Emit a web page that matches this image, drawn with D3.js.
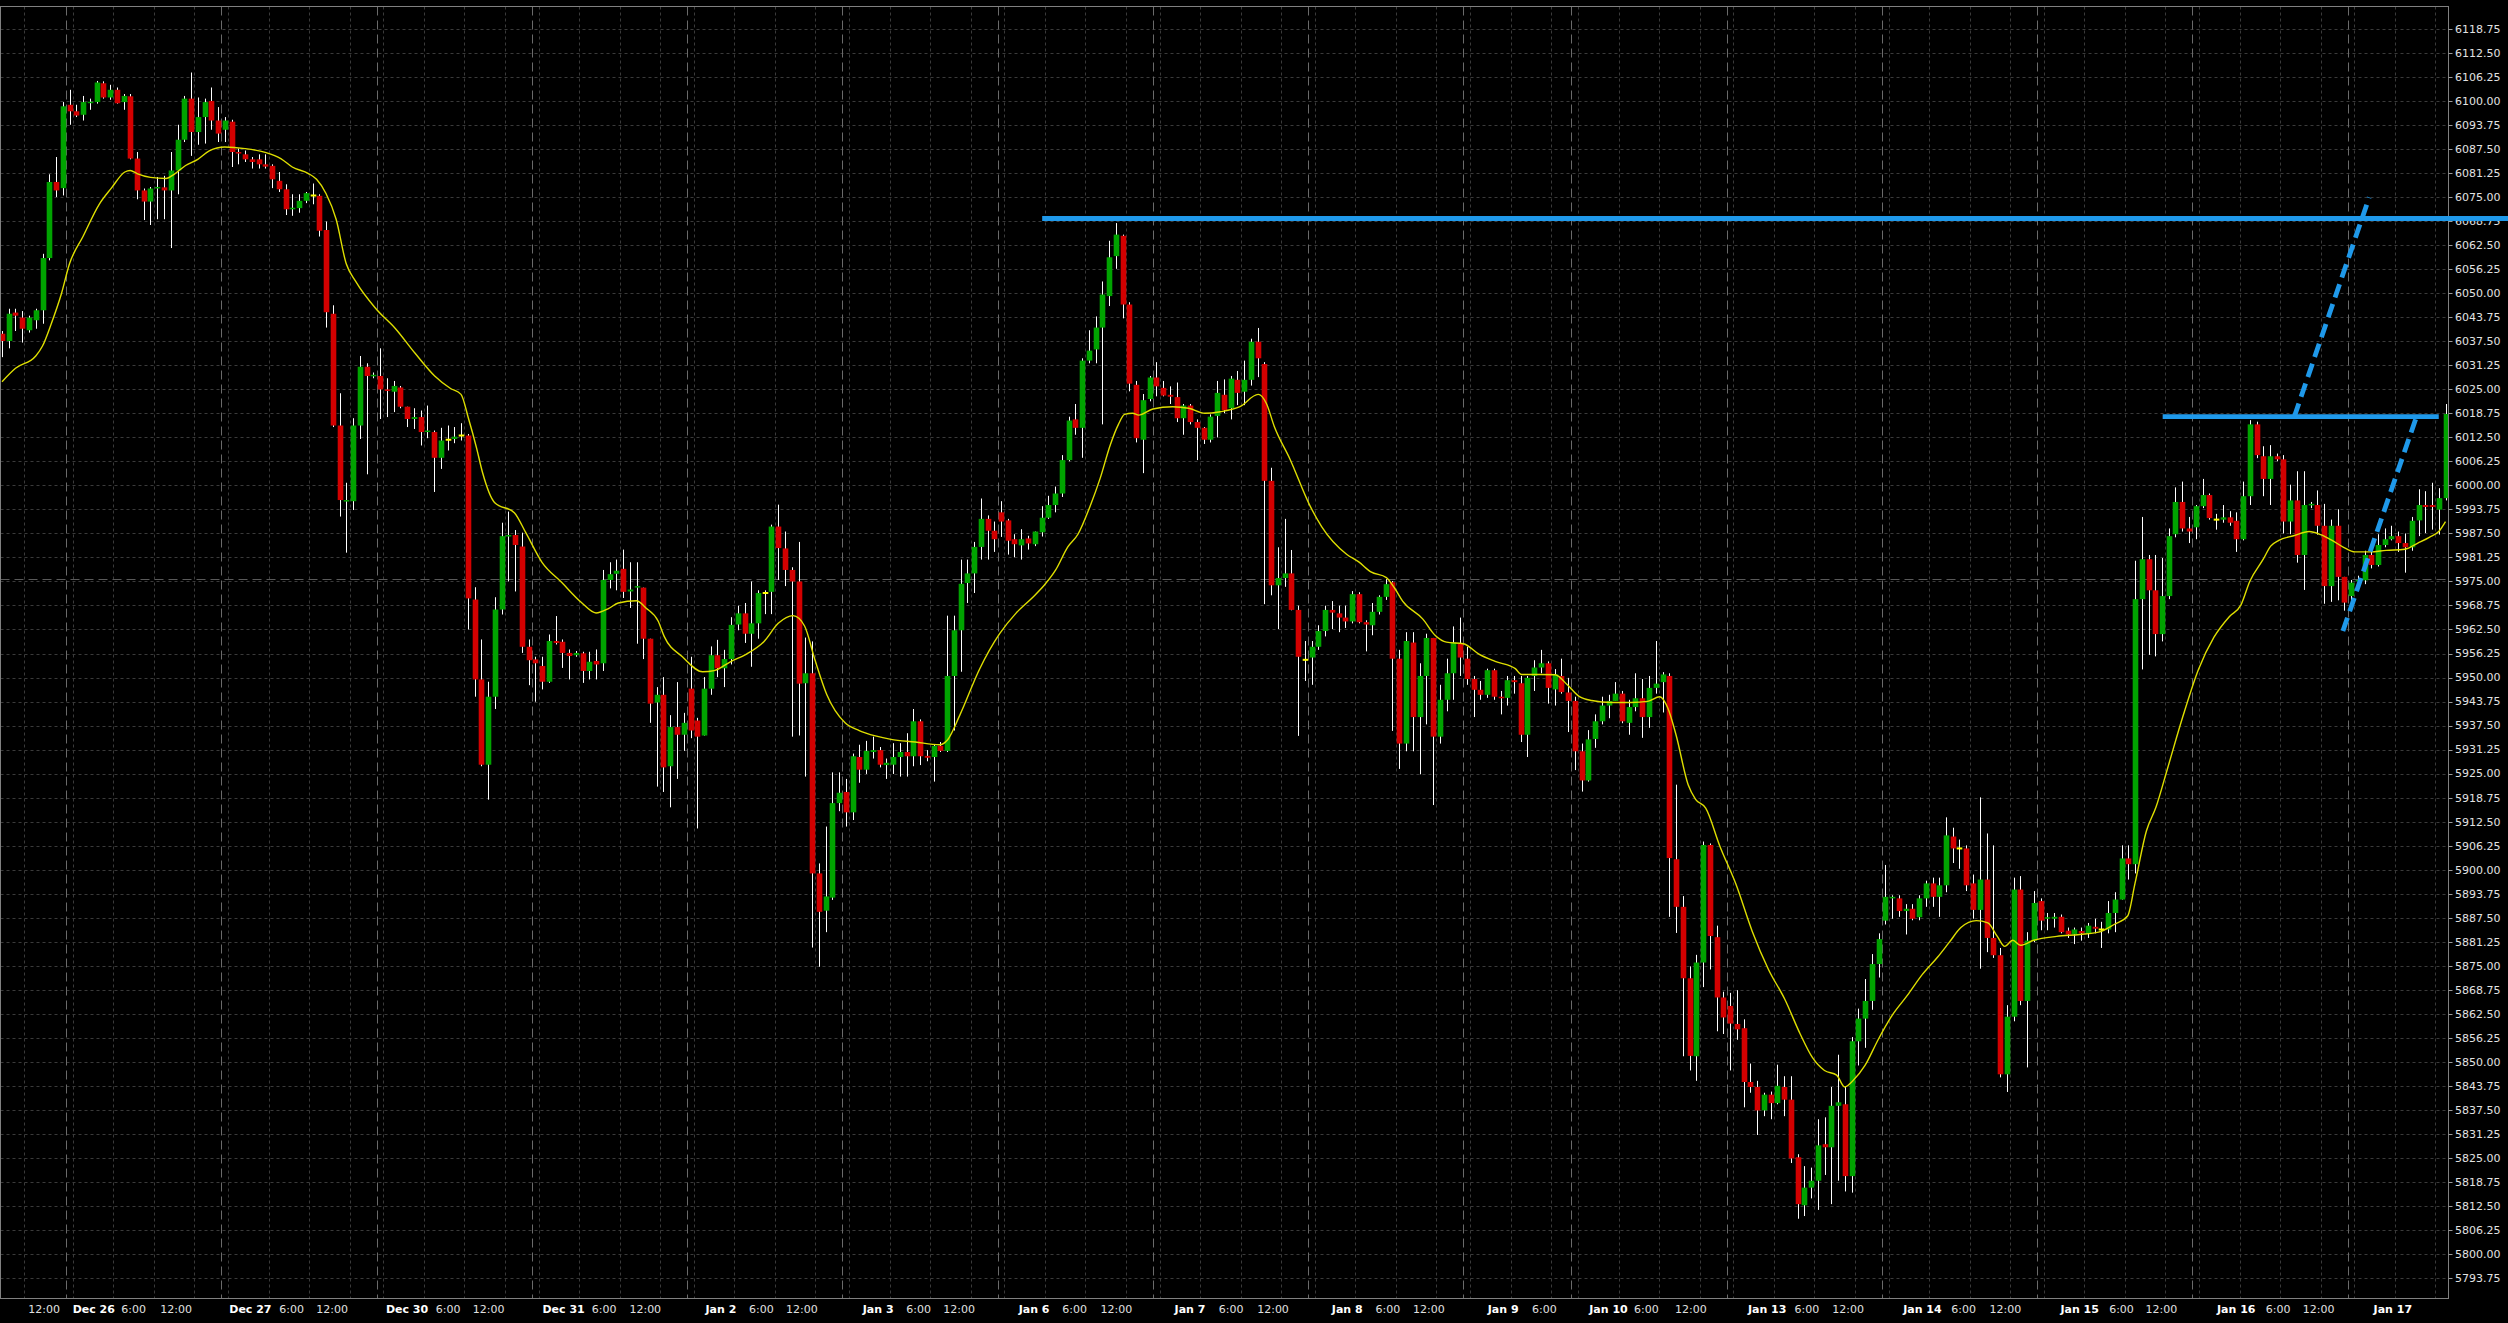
<!DOCTYPE html>
<html><head><meta charset="utf-8">
<script src="https://cdn.jsdelivr.net/npm/d3@7"></script>
<style>html,body{margin:0;padding:0;background:#000;overflow:hidden}svg{display:block}</style>
</head><body><svg id="chart" width="2508" height="1323"></svg>
<script>
// ---- data (hourly bars) ----
const opens = [6039.5,6037.6,6045.0,6043.7,6040.4,6043.0,6045.6,6059.2,6079.0,6077.4,6099.1,6097.4,6096.5,6099.6,6099.8,6104.7,6101.0,6103.0,6099.8,6101.3,6085.1,6076.8,6073.9,6077.4,6077.6,6076.8,6082.0,6090.0,6100.7,6092.0,6095.9,6100.1,6095.0,6092.6,6094.7,6086.8,6086.2,6084.9,6084.9,6083.6,6083.2,6079.3,6077.1,6071.9,6072.2,6074.1,6075.5,6075.4,6066.5,6044.7,6015.6,5995.8,5995.9,6015.6,6030.9,6028.5,6028.5,6025.0,6024.4,6025.5,6020.5,6017.3,6017.8,6013.9,6013.9,6007.2,6011.9,6012.1,6013.0,6013.0,5970.3,5949.5,5927.3,5945.0,5967.7,5986.7,5987.1,5984.1,5958.0,5954.7,5953.0,5948.9,5959.5,5959.3,5956.4,5955.8,5956.3,5951.7,5954.3,5953.7,5975.4,5977.0,5978.3,5972.4,5973.4,5973.4,5960.1,5943.5,5945.5,5926.9,5937.1,5935.1,5947.1,5938.8,5934.9,5947.1,5955.8,5952.4,5954.8,5963.8,5966.7,5961.4,5964.1,5972.0,5972.3,5989.3,5983.6,5978.0,5975.0,5948.5,5951.1,5899.0,5889.3,5892.7,5917.3,5920.2,5914.9,5929.3,5926.0,5930.6,5931.1,5927.2,5927.3,5929.3,5930.6,5929.5,5938.6,5929.6,5929.3,5932.2,5930.9,5950.4,5962.3,5974.6,5977.1,5984.0,5991.3,5988.2,5993.0,5990.9,5986.0,5984.4,5986.2,5984.7,5987.8,5991.6,5994.9,5997.9,6006.6,6017.2,6015.0,6032.5,6035.4,6041.1,6049.3,6059.7,6065.0,6047.1,6026.2,6011.9,6022.5,6028.1,6025.4,6023.6,6023.0,6017.5,6020.8,6016.5,6015.0,6011.9,6018.1,6023.6,6020.1,6027.5,6024.4,6027.5,6037.4,6031.6,6001.2,5974.0,5975.9,5977.1,5967.6,5954.6,5955.2,5958.0,5962.1,5967.6,5966.7,5965.6,5964.6,5971.7,5964.4,5963.6,5967.1,5971.0,5974.8,5954.9,5932.8,5959.1,5939.7,5950.4,5960.3,5934.6,5944.2,5951.1,5958.8,5954.9,5949.6,5946.8,5945.5,5951.9,5945.0,5944.7,5949.3,5948.5,5935.1,5950.4,5952.6,5953.7,5946.9,5950.4,5946.1,5943.9,5930.8,5923.2,5934.0,5938.6,5942.7,5943.9,5945.8,5938.2,5942.3,5944.6,5939.7,5947.3,5948.8,5950.4,5902.7,5890.3,5871.7,5851.4,5875.8,5906.4,5882.4,5866.7,5864.5,5859.8,5858.7,5844.7,5843.4,5837.3,5841.4,5839.2,5843.4,5840.1,5825.1,5812.6,5817.2,5819.0,5828.5,5827.7,5838.5,5838.9,5820.2,5855.3,5861.2,5865.8,5875.4,5886.7,5892.5,5892.5,5889.2,5889.8,5887.6,5892.5,5896.4,5892.9,5895.9,5908.6,5905.5,5905.5,5896.4,5889.5,5897.4,5882.2,5877.7,5846.7,5861.7,5894.8,5865.8,5881.5,5891.8,5887.2,5887.2,5887.7,5884.1,5883.1,5884.0,5883.4,5885.1,5884.4,5884.4,5888.7,5892.2,5902.9,5901.4,5970.4,5980.8,5972.7,5961.3,5971.2,5987.3,5995.7,5988.8,5989.1,5994.6,5997.5,5991.1,5991.1,5991.7,5990.8,5986.0,5997.2,6015.9,6007.6,6001.7,6007.6,6006.8,5990.6,5996.1,5981.9,5994.9,5994.9,5989.5,5973.8,5989.5,5976.2,5971.2,5975.2,5975.3,5981.9,5979.3,5984.5,5986.0,5986.8,5985.0,5983.9,5990.9,5994.9,5994.9,5993.7,5996.7];
const highs = [6040.2,6046.0,6046.0,6045.4,6044.2,6046.0,6060.3,6081.0,6085.5,6099.8,6103.0,6099.1,6101.4,6100.7,6105.3,6105.2,6104.3,6103.6,6101.9,6101.9,6086.8,6077.3,6077.7,6080.3,6080.6,6086.8,6093.9,6101.4,6107.5,6101.0,6100.7,6103.6,6098.5,6095.9,6095.2,6087.7,6087.2,6085.5,6086.2,6086.2,6083.6,6081.6,6078.4,6075.8,6075.8,6076.4,6078.6,6075.8,6068.7,6046.9,6024.0,6000.7,6017.5,6033.7,6031.8,6029.4,6035.7,6027.9,6027.2,6025.9,6020.5,6020.1,6019.5,6020.8,6014.3,6015.0,6015.6,6015.2,6016.2,6013.4,5973.5,5959.9,5948.9,5970.9,5990.3,5993.2,5988.4,5987.7,5959.9,5955.4,5955.4,5961.2,5966.0,5959.9,5957.3,5956.9,5956.7,5956.7,5957.3,5978.0,5980.0,5980.7,5983.3,5980.0,5980.0,5973.4,5960.1,5947.5,5950.1,5940.2,5948.8,5940.8,5955.4,5939.5,5950.1,5958.1,5959.8,5957.2,5965.7,5968.7,5969.4,5975.0,5972.7,5972.7,5989.8,5995.0,5988.0,5978.7,5985.3,5960.4,5959.4,5901.6,5911.2,5925.3,5925.3,5923.6,5930.2,5932.5,5933.5,5934.6,5931.9,5928.9,5932.9,5932.9,5935.5,5941.8,5939.1,5931.1,5932.5,5933.2,5966.1,5966.1,5980.7,5980.7,5985.3,5996.6,5992.2,5990.6,5995.9,5991.3,5987.3,5988.6,5986.9,5988.0,5994.6,5997.3,5999.7,6007.9,6017.9,6021.2,6033.1,6040.4,6044.0,6053.1,6063.7,6068.3,6065.3,6047.7,6027.2,6023.8,6028.5,6032.1,6027.2,6025.8,6026.8,6021.2,6021.2,6017.2,6015.2,6018.5,6027.2,6027.6,6028.5,6029.8,6032.5,6038.2,6041.0,6032.1,6004.6,5983.9,5991.3,5983.2,5968.7,5959.5,5959.5,5963.6,5968.7,5969.9,5968.7,5968.7,5972.5,5972.2,5964.9,5969.4,5971.4,5975.6,5975.1,5957.2,5961.8,5961.8,5953.7,5961.4,5960.3,5948.1,5954.9,5963.3,5965.6,5958.0,5950.4,5949.1,5952.3,5952.3,5946.5,5950.4,5950.4,5950.4,5950.4,5954.5,5957.2,5954.2,5952.2,5954.9,5949.9,5945.0,5932.8,5936.3,5940.4,5945.0,5945.5,5948.8,5946.5,5944.2,5951.1,5949.6,5950.4,5959.5,5951.4,5951.1,5922.1,5893.1,5874.8,5877.8,5907.3,5906.8,5885.4,5868.2,5867.9,5868.6,5861.0,5849.5,5845.0,5841.9,5842.2,5849.2,5846.2,5846.2,5825.9,5822.8,5822.4,5835.0,5835.5,5843.4,5851.8,5843.4,5856.4,5863.8,5871.5,5878.0,5883.4,5901.2,5893.3,5893.3,5891.0,5891.0,5893.3,5897.1,5897.9,5897.9,5913.6,5910.9,5907.8,5906.3,5898.7,5918.8,5909.4,5906.3,5879.6,5864.7,5897.9,5898.3,5883.7,5894.4,5892.5,5888.7,5888.7,5888.3,5884.9,5884.9,5884.9,5886.1,5887.2,5886.4,5891.8,5894.1,5906.3,5906.3,5980.4,5991.8,5981.9,5981.9,5981.1,5988.8,5999.5,6001.0,5991.8,5994.9,6001.7,5997.9,5992.6,5994.9,5993.3,5993.0,6001.0,6017.0,6016.6,6010.2,6010.5,6008.3,6007.9,6000.2,6003.7,6003.7,5995.7,5998.7,5995.2,5991.1,5993.8,5976.2,5975.4,5976.5,5983.0,5984.2,5987.3,5988.8,5989.5,5988.0,5987.5,5991.8,5999.0,5998.5,6000.7,5999.3,6021.2];
const lows = [6033.4,6035.7,6040.2,6037.2,6039.8,6040.8,6042.1,6058.6,6075.1,6075.5,6093.9,6095.9,6095.0,6097.8,6099.4,6100.7,6100.4,6099.4,6097.8,6084.9,6074.5,6069.1,6067.8,6069.3,6069.3,6061.8,6075.8,6089.4,6085.8,6088.7,6089.0,6092.6,6089.4,6089.4,6082.9,6083.6,6084.2,6082.5,6082.5,6082.5,6077.4,6076.4,6070.4,6070.2,6071.0,6073.5,6073.2,6064.8,6041.1,6015.2,5991.9,5982.5,5993.6,6012.1,6002.9,6027.9,6017.3,6017.8,6019.1,6020.1,6015.2,6014.7,6010.4,6012.3,5998.3,6004.3,6009.1,6011.0,6011.7,5962.5,5945.0,5926.9,5918.2,5941.8,5966.4,5975.0,5972.4,5956.4,5948.0,5943.7,5946.9,5948.6,5958.6,5952.5,5949.5,5955.4,5948.6,5949.5,5949.5,5951.7,5973.2,5972.7,5970.7,5968.1,5958.8,5954.8,5938.2,5921.6,5920.2,5916.2,5923.6,5930.9,5934.2,5910.7,5934.9,5945.5,5950.1,5947.5,5953.4,5962.3,5959.0,5952.8,5960.1,5966.5,5966.5,5975.4,5973.8,5934.6,5934.9,5924.2,5879.7,5874.7,5883.7,5892.1,5915.2,5911.2,5912.9,5922.6,5924.9,5928.9,5926.6,5923.6,5924.9,5924.2,5924.2,5926.9,5927.2,5928.2,5922.9,5930.6,5930.6,5936.2,5951.5,5969.4,5972.0,5980.7,5980.7,5982.7,5986.6,5982.0,5981.3,5980.7,5983.3,5984.2,5986.7,5991.3,5993.0,5997.0,6006.3,6013.2,6007.2,6031.8,6031.8,6015.9,6046.7,6056.4,6043.5,6024.5,6011.2,6003.2,6021.9,6023.2,6023.2,6021.2,6016.5,6013.2,6015.9,6006.6,6010.8,6011.2,6012.5,6018.8,6017.2,6020.9,6020.9,6026.0,6028.2,5969.1,5971.4,5962.6,5973.6,5967.5,5934.8,5949.1,5948.1,5957.2,5960.7,5962.6,5961.8,5962.9,5964.1,5964.1,5956.8,5961.0,5966.4,5970.2,5936.1,5926.2,5930.8,5930.8,5924.8,5937.8,5916.8,5932.8,5941.2,5944.2,5950.4,5948.1,5939.7,5944.2,5944.7,5944.2,5940.4,5942.7,5945.8,5933.2,5929.3,5946.5,5951.1,5943.2,5942.7,5945.8,5935.8,5925.9,5920.3,5922.9,5931.7,5937.8,5939.4,5943.9,5938.1,5935.1,5941.2,5934.3,5936.9,5945.8,5940.9,5887.7,5883.5,5851.4,5847.7,5845.0,5869.4,5874.0,5857.9,5857.2,5847.7,5855.7,5838.1,5841.9,5830.9,5835.8,5835.0,5838.9,5835.8,5823.6,5809.1,5809.8,5814.4,5811.4,5820.5,5812.9,5819.0,5816.2,5815.9,5849.0,5853.6,5863.5,5871.9,5885.7,5887.2,5887.7,5883.1,5886.8,5886.8,5890.3,5890.3,5887.7,5894.1,5901.7,5900.2,5894.4,5887.2,5874.2,5878.5,5877.0,5845.9,5842.1,5860.5,5864.7,5848.5,5881.1,5884.2,5884.2,5884.9,5883.4,5882.2,5880.6,5881.5,5882.2,5883.4,5879.6,5883.4,5883.7,5892.2,5897.4,5899.0,5952.1,5955.9,5955.5,5959.4,5970.4,5986.5,5988.0,5985.0,5986.0,5994.1,5991.1,5988.5,5990.3,5989.5,5982.7,5985.7,5994.9,6007.1,5997.2,5994.9,6006.3,5987.5,5987.3,5979.9,5972.8,5994.1,5987.2,5969.2,5969.7,5970.1,5967.4,5969.0,5974.3,5974.3,5978.4,5978.9,5983.9,5985.7,5982.7,5977.3,5983.0,5986.8,5987.6,5988.5,5987.2,5996.1];
const closes = [6037.6,6044.7,6044.2,6040.8,6043.7,6045.6,6059.2,6079.0,6076.8,6098.7,6097.4,6096.3,6099.8,6099.9,6104.9,6101.0,6103.0,6099.5,6101.4,6085.1,6076.8,6073.9,6077.3,6077.7,6076.8,6082.0,6090.0,6100.7,6092.0,6095.9,6099.8,6095.0,6091.6,6095.0,6086.8,6086.4,6084.9,6084.2,6083.6,6083.0,6079.7,6077.1,6071.9,6072.3,6074.1,6076.1,6075.5,6066.3,6045.1,6015.6,5996.2,5996.2,6015.6,6030.9,6028.5,6028.8,6025.0,6024.6,6025.9,6020.5,6017.3,6017.8,6013.9,6014.3,6007.2,6011.7,6011.9,6012.7,6013.0,5970.6,5949.5,5927.3,5945.0,5967.7,5986.8,5987.1,5984.5,5958.0,5954.5,5953.7,5948.9,5959.5,5959.0,5956.4,5955.6,5956.4,5951.7,5954.1,5953.4,5975.4,5976.9,5977.8,5972.3,5972.9,5973.8,5960.1,5943.2,5945.5,5926.6,5937.1,5935.1,5938.2,5936.2,5934.6,5947.1,5955.8,5952.4,5954.8,5963.7,5966.7,5961.4,5964.1,5972.0,5972.0,5989.3,5983.7,5978.0,5975.0,5948.4,5951.1,5899.0,5889.0,5893.0,5917.3,5920.0,5914.9,5929.5,5926.0,5930.9,5931.1,5927.3,5927.8,5929.3,5930.6,5929.5,5938.6,5929.5,5929.1,5932.2,5930.9,5950.4,5962.3,5974.4,5977.1,5984.0,5991.3,5988.2,5986.0,5990.6,5985.6,5984.7,5986.0,5984.9,5988.0,5991.6,5994.9,5997.9,6006.6,6016.9,6015.0,6032.5,6035.1,6041.1,6049.7,6059.4,6065.3,6047.1,6026.5,6012.3,6022.2,6028.1,6025.8,6023.4,6023.1,6017.5,6020.8,6016.5,6015.0,6011.9,6017.9,6024.1,6019.6,6027.8,6024.1,6027.5,6037.4,6033.1,6001.2,5974.0,5975.9,5977.1,5967.6,5955.4,5954.6,5958.0,5962.1,5967.6,5966.9,5965.6,5964.6,5971.7,5964.4,5963.8,5967.1,5971.0,5974.3,5954.9,5932.8,5959.5,5939.7,5950.4,5960.3,5934.6,5944.2,5951.1,5959.1,5955.2,5949.6,5946.8,5945.5,5951.9,5945.0,5944.6,5949.3,5948.8,5935.1,5949.9,5952.6,5953.7,5947.3,5950.8,5946.2,5943.9,5930.8,5923.2,5933.9,5938.6,5942.7,5943.9,5945.8,5938.6,5942.3,5944.6,5939.7,5947.3,5948.4,5950.8,5903.0,5890.3,5871.7,5851.5,5875.8,5906.4,5882.7,5866.7,5861.5,5859.9,5858.4,5844.7,5843.4,5837.3,5841.4,5839.2,5843.7,5840.1,5824.8,5812.9,5817.2,5819.0,5828.2,5827.7,5838.5,5839.4,5820.2,5855.3,5861.2,5865.8,5875.4,5881.9,5892.9,5892.9,5889.2,5889.8,5887.2,5892.5,5896.4,5892.9,5895.9,5908.9,5905.5,5905.5,5895.9,5889.5,5897.4,5882.2,5877.7,5846.7,5861.7,5894.8,5865.8,5881.5,5891.3,5886.7,5887.6,5887.7,5883.7,5883.1,5884.4,5883.4,5885.4,5884.6,5884.4,5888.7,5892.2,5902.9,5901.4,5970.4,5980.8,5972.7,5961.3,5971.2,5986.8,5995.7,5988.8,5988.0,5994.6,5997.5,5991.5,5991.1,5991.7,5990.3,5986.0,5997.2,6015.9,6007.9,6001.7,6007.6,6006.8,5990.6,5996.1,5981.9,5994.9,5995.2,5989.5,5973.8,5989.5,5976.2,5969.5,5974.7,5975.4,5981.9,5979.3,5984.5,5986.0,5986.8,5985.0,5983.9,5990.8,5994.9,5994.4,5994.4,5996.7,6018.6];

// moving average: bar position and value
const maBars = [0,2,5,6,7.3,8.8,10,12,14.4,16.2,18.2,19,20,22,24.3,25.5,27.2,29,30.7,33,36,39,41.3,43,45.4,46.6,48,49.5,51,52.4,55.4,58.3,61.2,64.1,66.4,68,69.1,70.3,71.2,73,75.9,77.6,80,82.9,85.8,88,89.9,91.3,94,95.4,97.2,98.1,100.8,103.8,105.5,107.9,110.3,112.9,115,117.2,118.9,120.4,122.2,124.9,127,129.4,131.7,135.3,138.9,140.1,141.9,144.8,147.8,150.2,152.6,154.4,156.1,157.9,159.4,161.2,162.7,164.2,165.4,166.3,167.5,168.4,170.5,173.4,175.8,178.2,180.5,183.4,186.1,187.3,188.5,190.8,193.8,195.5,199.2,201,202.8,205.1,206.3,207.5,210.5,212.3,214,216.5,218.8,221.2,224.2,225.1,227.8,230.1,231.9,233.7,235.5,238.5,241.4,243.8,245.6,246.8,248,249.8,250.9,252.4,254.5,256.9,259.3,261.7,264.1,266.4,268.2,270,271.8,273,274.2,276,278,280,282.3,284.5,286.8,288.5,290.2,292.5,294.2,295.6,296.7,297.9,299,301,304.4,307.8,310.6,312.9,314.9,316,317.7,319.1,320.8,323.1,325.4,327.7,330,331.7,333,335,336.1,337.3,339.5,341.8,343.5,345.2,346.9,348.6,350.9,353.2,356,357.9,359.6,361,362];
const maValues = [6027,6030.5,6033.7,6036.3,6042.1,6049.9,6057.7,6064.8,6073.2,6077.4,6081.6,6082.0,6081.2,6080.2,6079.9,6081.0,6083.3,6084.9,6087.1,6088.1,6087.7,6086.7,6085.1,6082.9,6081.2,6079.7,6076.0,6069.3,6057.7,6053.1,6046.0,6040.8,6034.4,6028.5,6025.3,6023.7,6017.5,6009.8,6003.3,5995.5,5992.9,5987.7,5980.0,5974.8,5969.6,5966.8,5968.0,5969.4,5970.0,5968.1,5964.7,5960.7,5955.4,5951.5,5951.8,5954.1,5956.1,5959.4,5964.1,5966.1,5963.4,5954.8,5945.5,5938.2,5936.2,5934.8,5933.9,5933.2,5932.5,5933.8,5940.2,5952.1,5961.4,5966.7,5970.7,5974.0,5978.0,5984.0,5987.3,5994.6,6001.9,6010.6,6015.9,6018.5,6018.8,6018.3,6019.9,6020.5,6020.1,6018.8,6019.2,6020.5,6023.7,6021.4,6015.3,6006.9,5994.6,5989.3,5982.1,5980.1,5977.5,5976.0,5973.3,5969.9,5965.2,5961.0,5959.2,5958.8,5956.1,5954.2,5952.3,5950.8,5950.8,5950.7,5948.1,5945.0,5944.0,5943.5,5943.5,5943.8,5945.0,5942.0,5935.1,5922.1,5918.3,5916.0,5906.1,5896.1,5883.9,5874.0,5866.3,5857.2,5851.1,5847.7,5846.5,5843.4,5845.0,5849.0,5855.9,5862.0,5867.3,5872.7,5877.3,5881.1,5884.9,5886.7,5886.1,5882.6,5880.0,5881.6,5880.3,5881.6,5882.6,5883.1,5883.7,5885.7,5887.9,5896.4,5910.1,5916.2,5926.2,5939.9,5952.1,5960.5,5965.9,5968.9,5975.0,5980.8,5984.2,5985.7,5986.9,5988.0,5987.2,5985.7,5983.9,5982.7,5982.7,5983.1,5983.4,5985.0,5986.5,5988.0,5990.6];

// price axis tick labels
const priceTicks = [5793.75,5800.00,5806.25,5812.50,5818.75,5825.00,5831.25,5837.50,5843.75,5850.00,5856.25,5862.50,5868.75,5875.00,5881.25,5887.50,5893.75,5900.00,5906.25,5912.50,5918.75,5925.00,5931.25,5937.50,5943.75,5950.00,5956.25,5962.50,5968.75,5975.00,5981.25,5987.50,5993.75,6000.00,6006.25,6012.50,6018.75,6025.00,6031.25,6037.50,6043.75,6050.00,6056.25,6062.50,6068.75,6075.00,6081.25,6087.50,6093.75,6100.00,6106.25,6112.50,6118.75];

// time axis labels (bar position, text, bold day label)
const timeTickBars = [6.25,13.6,19.5,25.8,36.8,42.9,48.9,60.0,66.1,72.1,83.2,89.2,95.3,106.5,112.5,118.5,129.8,135.8,141.8,152.9,158.9,165.1,176.0,182.1,188.3,199.3,205.3,211.4,222.4,228.5,238.0,243.6,250.2,261.5,267.4,273.5,284.5,290.6,296.8,307.8,314.0,319.9,331.0,337.2,343.2,354.2];
const timeTickTexts = ["12:00","Dec 26","6:00","12:00","Dec 27","6:00","12:00","Dec 30","6:00","12:00","Dec 31","6:00","12:00","Jan 2","6:00","12:00","Jan 3","6:00","12:00","Jan 6","6:00","12:00","Jan 7","6:00","12:00","Jan 8","6:00","12:00","Jan 9","6:00","Jan 10","6:00","12:00","Jan 13","6:00","12:00","Jan 14","6:00","12:00","Jan 15","6:00","12:00","Jan 16","6:00","12:00","Jan 17"];

// day separators (between bars) and time grid positions
const daySeparators = [9.5,32.5,55.5,78.5,101.5,124.5,147.5,170.5,193.5,216.5,232.5,255.5,278.5,301.5,324.5,347.5];
const gridOffsets = [1,7,13,19];

// drawn objects
const levelPrices = [6069.5, 6017.9];
const levelStarts = [154.1, 320.1];
const levelEnds = [null, 361.0];          // null = runs across the price scale
const trendStarts = [[339.6, 6017.9], [346.8, 5962.1]];
const trendEnds = [[350.7, 6075.0], [357.7, 6017.9]];
const refPrice = 5975.6;

// ---- drawing ----
const svg = d3.select("#chart");
const W = 2508, H = 1323;
const plot = {left: 0.5, right: 2448.5, top: 6.5, bottom: 1298.5};
const nBars = closes.length;
const x = d3.scaleLinear().domain([0, 362]).range([2, 2445.5]);
const y = d3.scaleLinear().domain([5793.75, 6118.75]).range([1277.7, 29.3]);
const step = x(1) - x(0);
const bw = step * 0.83;

svg.append("rect").attr("width", W).attr("height", H).attr("fill", "#000");

svg.append("defs").append("clipPath").attr("id", "clip")
  .append("rect").attr("x", plot.left).attr("y", plot.top)
  .attr("width", plot.right - plot.left).attr("height", plot.bottom - plot.top);

const g = svg.append("g").attr("clip-path", "url(#clip)");

// horizontal grid
g.append("g").selectAll("line").data(priceTicks).join("line")
  .attr("x1", plot.left).attr("x2", plot.right)
  .attr("y1", d => Math.round(y(d)) + 0.5).attr("y2", d => Math.round(y(d)) + 0.5)
  .attr("stroke", "#3a3a3a").attr("stroke-width", 1).attr("stroke-dasharray", "3,3");

// vertical time grid
const gridBars = [3.3];
daySeparators.forEach((s, k) => {
  const next = k < daySeparators.length - 1 ? daySeparators[k + 1] : 363;
  gridOffsets.forEach(o => { if (s + o < next - 1) gridBars.push(s + o); });
});
g.append("g").selectAll("line").data(gridBars).join("line")
  .attr("x1", d => Math.round(x(d)) + 0.5).attr("x2", d => Math.round(x(d)) + 0.5)
  .attr("y1", plot.top).attr("y2", plot.bottom)
  .attr("stroke", "#3a3a3a").attr("stroke-width", 1).attr("stroke-dasharray", "3,3");

// day separators
g.append("g").selectAll("line").data(daySeparators).join("line")
  .attr("x1", d => Math.round(x(d)) + 0.5).attr("x2", d => Math.round(x(d)) + 0.5)
  .attr("y1", plot.top).attr("y2", plot.bottom)
  .attr("stroke", "#6a6a6a").attr("stroke-width", 1).attr("stroke-dasharray", "9,5");

// reference dashed line
g.append("line")
  .attr("x1", plot.left).attr("x2", plot.right)
  .attr("y1", Math.round(y(refPrice)) + 0.5).attr("y2", Math.round(y(refPrice)) + 0.5)
  .attr("stroke", "#5a5a5a").attr("stroke-width", 1).attr("stroke-dasharray", "9,5");

// candles
const idx = d3.range(nBars);
g.append("g").selectAll("line").data(idx).join("line")
  .attr("x1", i => Math.round(x(i)) + 0.5).attr("x2", i => Math.round(x(i)) + 0.5)
  .attr("y1", i => y(highs[i])).attr("y2", i => y(lows[i]))
  .attr("stroke", "#ffffff").attr("stroke-width", 1);

const bodies = idx.filter(i => opens[i] !== closes[i]);
g.append("g").selectAll("rect").data(bodies).join("rect")
  .attr("x", i => Math.round(x(i)) + 0.5 - bw / 2)
  .attr("width", bw)
  .attr("y", i => y(Math.max(opens[i], closes[i])))
  .attr("height", i => Math.max(1.5, Math.abs(y(opens[i]) - y(closes[i]))))
  .attr("fill", i => closes[i] > opens[i] ? "#00a300" : "#d30000");

const dojis = idx.filter(i => opens[i] === closes[i]);
g.append("g").selectAll("line").data(dojis).join("line")
  .attr("x1", i => Math.round(x(i)) + 0.5 - bw / 2).attr("x2", i => Math.round(x(i)) + 0.5 + bw / 2)
  .attr("y1", i => y(closes[i])).attr("y2", i => y(closes[i]))
  .attr("stroke", "#ffff00").attr("stroke-width", 2);

// moving average
const maLine = d3.line().x(d => x(d[0])).y(d => y(d[1])).curve(d3.curveMonotoneX);
g.append("path").datum(maBars.map((b, k) => [b, maValues[k]]))
  .attr("d", maLine).attr("fill", "none")
  .attr("stroke", "#dede00").attr("stroke-width", 1.4);

// frame
svg.append("rect").attr("x", plot.left).attr("y", plot.top)
  .attr("width", plot.right - plot.left).attr("height", plot.bottom - plot.top)
  .attr("fill", "none").attr("stroke", "#808080").attr("stroke-width", 1);

// price axis
const ya = svg.append("g");
ya.selectAll("line").data(priceTicks).join("line")
  .attr("x1", plot.right).attr("x2", plot.right + 4)
  .attr("y1", d => Math.round(y(d)) + 0.5).attr("y2", d => Math.round(y(d)) + 0.5)
  .attr("stroke", "#9a9a9a");
ya.selectAll("text").data(priceTicks).join("text")
  .attr("x", 2455).attr("y", d => y(d)).attr("dy", "0.36em")
  .attr("font-family", "DejaVu Sans").attr("font-size", 11)
  .attr("fill", "#e2e2e2").text(d => d3.format(".2f")(d));

// time axis
const xa = svg.append("g");
xa.selectAll("text").data(timeTickBars).join("text")
  .attr("x", b => x(b)).attr("y", 1313)
  .attr("text-anchor", "middle")
  .attr("font-family", "DejaVu Sans").attr("font-size", 11)
  .attr("font-weight", (b, k) => /:/.test(timeTickTexts[k]) ? "normal" : "bold")
  .attr("fill", (b, k) => /:/.test(timeTickTexts[k]) ? "#e0e0e0" : "#ffffff")
  .text((b, k) => timeTickTexts[k]);

// level lines and trend lines
const blue = "#1f99ea";
levelPrices.forEach((p, k) => {
  svg.append("line")
    .attr("x1", x(levelStarts[k]))
    .attr("x2", levelEnds[k] === null ? W : x(levelEnds[k]))
    .attr("y1", y(p)).attr("y2", y(p))
    .attr("stroke", blue).attr("stroke-width", 4.8);
});
trendStarts.forEach((s, k) => {
  svg.append("line")
    .attr("x1", x(s[0])).attr("y1", y(s[1]))
    .attr("x2", x(trendEnds[k][0])).attr("y2", y(trendEnds[k][1]))
    .attr("stroke", blue).attr("stroke-width", 4.8).attr("stroke-dasharray", "14,7");
});
</script>
</body></html>
